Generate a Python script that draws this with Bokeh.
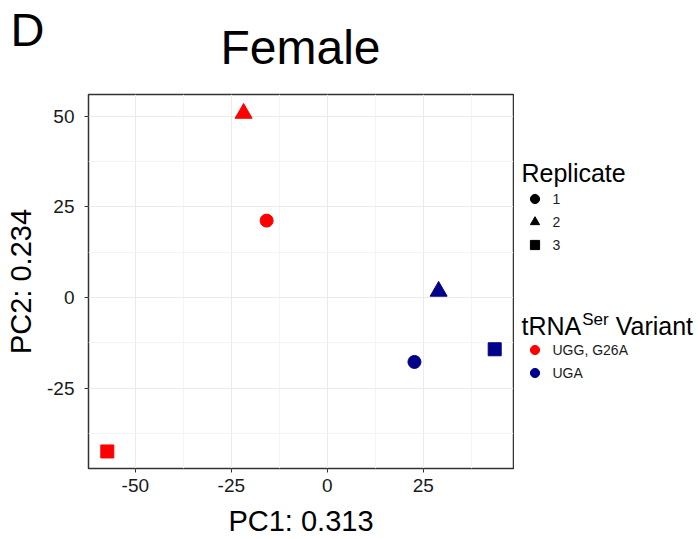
from bokeh.plotting import figure
from bokeh.layouts import column, row
from bokeh.models import (ColumnDataSource, Range1d, FixedTicker, Label, Legend,
                          LegendItem, CDSView, GroupFilter)
from bokeh.embed import file_html
from bokeh.resources import INLINE

# ---- data ----
pc1 = [-15.8, -21.8, -57.3, 22.7, 29.0, 43.6]
pc2 = [21.2, 50.8, -42.5, -17.8, 1.7, -14.3]
replicate = ["1", "2", "3", "1", "2", "3"]
variant = ["UGG, G26A", "UGG, G26A", "UGG, G26A", "UGA", "UGA", "UGA"]

replicate_levels = ["1", "2", "3"]
variant_levels = ["UGG, G26A", "UGA"]
x_ticks = [-50, -25, 0, 25]
y_ticks = [-25, 0, 25, 50]
x_minor = [-62.5, -37.5, -12.5, 12.5, 37.5]
y_minor = [-37.5, -12.5, 12.5, 37.5]

# ---- styles ----
FONT = "Liberation Sans"
markers = {"1": "circle", "2": "triangle", "3": "square"}
sizes = {"1": 13, "2": 17, "3": 13}
colors = {"UGG, G26A": "#FF0000", "UGA": "#00008B"}

HEAD_H = 93
BODY_H = 539 - HEAD_H
MAIN_W = 514
LEG_W = 698 - MAIN_W
BORDER_TOP = 1
BORDER_BOTTOM = 69


def blank(w, h, top=0, bottom=0):
    f = figure(width=w, height=h, output_backend="svg", toolbar_location=None,
               x_range=Range1d(0, 1), y_range=Range1d(0, 1),
               min_border_left=0, min_border_right=0,
               min_border_top=top, min_border_bottom=bottom,
               outline_line_color=None,
               x_axis_location=None, y_axis_location=None)
    f.grid.visible = False
    f.border_fill_color = "white"
    f.background_fill_color = "white"
    return f


def lab(fig, text, x, y, size, align="left"):
    # y: pixels from the bottom of the figure's frame to the top of the text box
    fig.add_layout(Label(x=x, y=y, x_units="screen", y_units="screen", text=text,
                         text_font=FONT, text_font_size=size, text_color="black",
                         text_align=align, text_baseline="top"))


# ---- header (panel tag and title) ----
head = blank(698, HEAD_H)
lab(head, "D", 10, 91, "47px")
lab(head, "Female", 300, 73, "48px", "center")

# ---- main panel ----
src = ColumnDataSource(dict(
    x=pc1, y=pc2, rep=replicate, var=variant,
    col=[colors[v] for v in variant],
))

p = figure(width=MAIN_W, height=BODY_H, output_backend="svg", toolbar_location=None,
           x_range=Range1d(-62.2, 48.5), y_range=Range1d(-47.2, 56.0),
           min_border_left=88, min_border_right=1, min_border_top=BORDER_TOP,
           min_border_bottom=BORDER_BOTTOM)
p.background_fill_color = "white"
p.border_fill_color = "white"
p.outline_line_color = "#333333"
p.outline_line_width = 1.5

p.xaxis.ticker = FixedTicker(ticks=x_ticks, minor_ticks=x_minor)
p.yaxis.ticker = FixedTicker(ticks=y_ticks, minor_ticks=y_minor)
p.xaxis.major_label_overrides = {t: str(t) for t in x_ticks}
p.yaxis.major_label_overrides = {t: str(t) for t in y_ticks}
p.xgrid.ticker = p.xaxis.ticker
p.ygrid.ticker = p.yaxis.ticker
for g in (p.xgrid, p.ygrid):
    g.grid_line_color = "#EBEBEB"
    g.grid_line_width = 1
    g.minor_grid_line_color = "#F4F4F4"
    g.minor_grid_line_width = 1

for ax in (p.xaxis, p.yaxis):
    ax.axis_line_color = None
    ax.major_tick_line_color = "#333333"
    ax.major_tick_in = 0
    ax.major_tick_out = 4
    ax.minor_tick_line_color = None
    ax.major_label_text_font = FONT
    ax.major_label_text_font_size = "19px"
    ax.major_label_text_color = "#1a1a1a"
    ax.axis_label_text_font = FONT
    ax.axis_label_text_font_size = "29px"
    ax.axis_label_text_font_style = "normal"
    ax.axis_label_text_color = "black"

p.xaxis.axis_label = "PC1: 0.313"
p.yaxis.axis_label = "PC2: 0.234"
p.xaxis.major_label_standoff = 6
p.yaxis.major_label_standoff = 10
p.xaxis.axis_label_standoff = 10
p.yaxis.axis_label_standoff = 7

for rep in replicate_levels:
    view = CDSView(filter=GroupFilter(column_name="rep", group=rep))
    p.scatter("x", "y", source=src, view=view, marker=markers[rep],
              size=sizes[rep], fill_color="col", line_color="col")

# ---- legend area (frame aligned with the main panel's frame) ----
leg = blank(LEG_W, BODY_H, BORDER_TOP, BORDER_BOTTOM)
NAN = float("nan")

rep_items = []
for rep in replicate_levels:
    r = leg.scatter(x=[NAN], y=[NAN], marker=markers[rep], fill_color="black",
                    line_color="black")
    rep_items.append(LegendItem(label=rep, renderers=[r]))
var_items = []
for v in variant_levels:
    r = leg.scatter(x=[NAN], y=[NAN], marker="circle", fill_color=colors[v],
                    line_color=colors[v])
    var_items.append(LegendItem(label=v, renderers=[r]))


def make_legend(items, loc):
    return Legend(items=items, location=loc, padding=0, margin=0, spacing=0,
                  glyph_width=23, glyph_height=23, label_height=23,
                  label_standoff=7, label_text_font=FONT,
                  label_text_font_size="14px", label_text_color="#1a1a1a",
                  border_line_color=None, background_fill_alpha=0)


# positions in pixels from the bottom-left of the legend frame
leg.add_layout(make_legend(rep_items, (8.5, 211.8)))
leg.add_layout(make_legend(var_items, (8.5, 84)))

lab(leg, "Replicate", 7, 309.8, "25px")
lab(leg, "tRNA", 7, 156.5, "25px")
lab(leg, "Ser", 7 + 60.7, 159, "17px")
lab(leg, "Variant", 7 + 60.7 + 26.5 + 7, 156.5, "25px")

layout = column(head, row(p, leg, spacing=0), spacing=0)
open("out.html", "w").write(file_html(layout, INLINE))
